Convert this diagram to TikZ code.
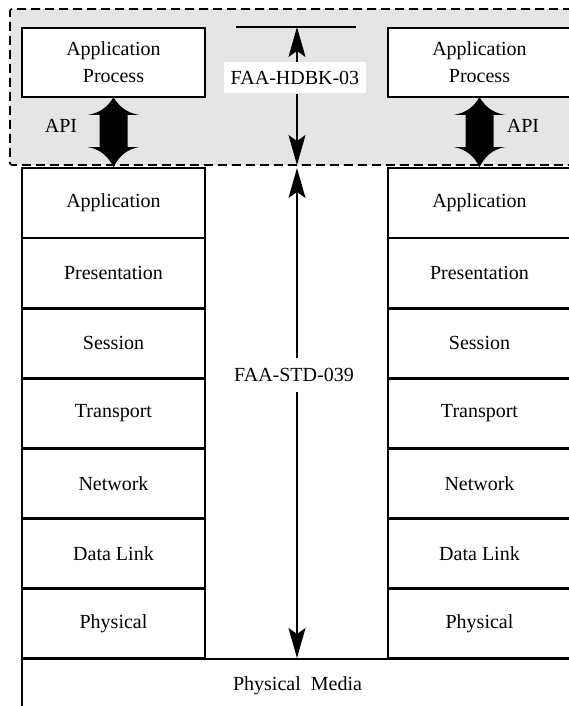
\documentclass[tikz,border=0pt]{standalone}
\usepackage{fontspec}
\setmainfont{Liberation Serif}
\usetikzlibrary{arrows.meta}
\definecolor{bggray}{RGB}{229,229,229}
\begin{document}
\begin{tikzpicture}[x=1pt,y=-1pt,
  txt/.style={font=\fontsize{20}{27}\selectfont},
  layer/.style={txt, draw, line width=1.6pt, minimum width=183pt, minimum height=70pt,
    inner sep=0pt, outer sep=0pt, anchor=north west},
  procbox/.style={layer, minimum height=69pt, fill=white, align=center},
  sep/.style={line width=2.8pt},
  border/.style={line width=1.6pt, dash pattern=on 9pt off 5pt, rounded corners=2pt},
  arr/.style={line width=1.5pt, -{Stealth[length=30pt,width=17pt,inset=6pt]}},
  fat/.style={fill=black},
  tag/.style={txt, fill=white, inner sep=0pt},
]
\useasboundingbox (0,0) rectangle (569,706);

% shaded region
\fill[bggray] (10,9) rectangle (600,165);
\draw[border] (600,9) -- (10,9) -- (10,165) -- (600,165);

% application processes
\node[procbox] (ap1) at (22,28) {Application\\Process};
\node[procbox] (ap2) at (388,28) {Application\\Process};

% layer stacks
\foreach \n/\t [count=\i from 0] in {1/Application,2/Presentation,3/Session,4/Transport,5/Network,6/Data Link,7/Physical}{
  \node[layer] (L\n) at (22,{168+70.14*\i}) {\t};
  \node[layer] (R\n) at (388,{168+70.14*\i}) {\t};
}
\foreach \n in {1,...,7}{
  \draw[sep] (L\n.south west) -- (L\n.south east);
  \draw[sep] (R\n.south west) -- (R\n.south east);
}

% physical media
\node[layer, minimum width=551pt, minimum height=54pt] (pm) at (22,659) {Physical\ \ Media};
\draw[sep] (L7.south west) -- (L7.south east);
\draw[sep] (R7.south west) -- (R7.south east);

% API arrows
\foreach \b in {ap1,ap2}{
  \fill[fat, shift={(\b.south)}] (0,0) .. controls (5,9) and (13,16) .. (26,18) -- (14,18) -- (14,50) -- (26,50)
     .. controls (13,52) and (5,60) .. (0,70) .. controls (-5,60) and (-13,52) .. (-26,50) -- (-14,50) -- (-14,18)
     -- (-26,18) .. controls (-13,16) and (-5,9) .. (0,0) -- cycle;
}
\node[txt] (api1) at (61,126) {API};
\node[txt] (api2) at (523,126) {API};

% FAA-HDBK-03
\coordinate (hl) at (236,27);
\coordinate (hr) at (356,27);
\coordinate (htop) at (297,27);
\coordinate (hbot) at (297,165);
\draw[line width=1.5pt] (hl) -- (hr);
\node[tag, minimum width=142pt, minimum height=31pt] (hdbk) at (295,78) {FAA-HDBK-03};
\draw[arr] (htop |- hdbk.north) -- (htop);
\draw[arr] (hbot |- hdbk.south) -- (hbot);

% FAA-STD-039
\coordinate (stop) at (297,168);
\coordinate (sbot) at (297,658);
\node[tag, minimum height=33pt, inner xsep=2pt] (std) at (294,375) {FAA-STD-039};
\draw[arr] (stop |- std.north) -- (stop);
\draw[arr] (sbot |- std.south) -- (sbot);
\end{tikzpicture}
\end{document}
